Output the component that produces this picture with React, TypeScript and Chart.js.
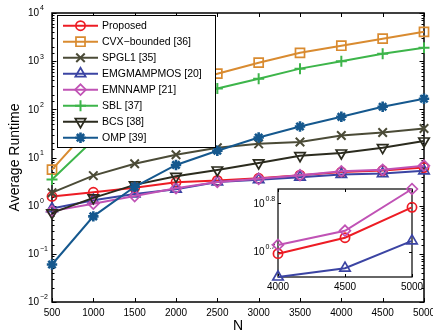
import React, { useEffect, useRef } from 'react';
import { Chart, registerables } from 'chart.js';
import { drawPoint } from 'chart.js/helpers';

Chart.register(...registerables);

const FONT = '"Liberation Sans", Arial, sans-serif';

// ---- data ----
const N = [500, 1000, 1500, 2000, 2500, 3000, 3500, 4000, 4500, 5000];
const Y_TICK_EXPONENTS = [-2, -1, 0, 1, 2, 3, 4];
const INSET_N = [4000, 4500, 5000];
const INSET_Y_TICK_EXPONENTS = [0.7, 0.8];

const proposed = [1.55, 1.9, 2.35, 3.05, 3.35, 3.7, 4.3, 4.97, 5.36, 6.19];
const cvxBounded = [5.6, 50, 150, 300, 550, 930, 1490, 2090, 2930, 4070];
const spgl1 = [1.86, 4.2, 7.4, 11.4, 16, 19.2, 21, 28.6, 33, 40];
const emgmampmos = [0.87, 1.3, 1.75, 2.2, 3.1, 3.45, 3.9, 4.45, 4.64, 5.28];
const emnnamp = [0.77, 1.1, 1.58, 2.3, 3.1, 3.6, 4.3, 5.18, 5.54, 6.75];
const sbl = [3.5, 23, 65, 140, 270, 430, 700, 1000, 1420, 1900];
const bcs = [0.71, 1.45, 2.7, 4.06, 5.5, 7.7, 10.9, 12.4, 16, 22];
const omp = [0.06, 0.6, 2.47, 7.0, 13.8, 26, 44, 70, 113, 166];

type Series = {
  label: string;
  values: number[];
  color: string;
  pointStyle: string;
  radius: number;
  rotation: number;
  pointBorderWidth: number;
};

const SERIES: Series[] = [
  { label: 'Proposed', values: proposed, color: '#ed1c24', pointStyle: 'circle', radius: 4.6, rotation: 0, pointBorderWidth: 1.7 },
  { label: 'CVX\u2212bounded [36]', values: cvxBounded, color: '#d98b30', pointStyle: 'rect', radius: 6.4, rotation: 0, pointBorderWidth: 1.7 },
  { label: 'SPGL1 [35]', values: spgl1, color: '#4b4b37', pointStyle: 'crossRot', radius: 6, rotation: 0, pointBorderWidth: 2 },
  { label: 'EMGMAMPMOS [20]', values: emgmampmos, color: '#3b44a3', pointStyle: 'triangle', radius: 6, rotation: 0, pointBorderWidth: 1.7 },
  { label: 'EMNNAMP [21]', values: emnnamp, color: '#c052b5', pointStyle: 'rectRot', radius: 5.4, rotation: 0, pointBorderWidth: 1.7 },
  { label: 'SBL [37]', values: sbl, color: '#3db54a', pointStyle: 'cross', radius: 5.5, rotation: 0, pointBorderWidth: 2 },
  { label: 'BCS [38]', values: bcs, color: '#2b2b1e', pointStyle: 'triangle', radius: 6, rotation: 180, pointBorderWidth: 1.7 },
  { label: 'OMP [39]', values: omp, color: '#15588e', pointStyle: 'star', radius: 5.2, rotation: 0, pointBorderWidth: 2.6 },
];

const INSET_SERIES_LABELS = ['Proposed', 'EMGMAMPMOS [20]', 'EMNNAMP [21]'];

function makeDataset(s: Series, i: number, xs: number[]) {
  return {
    label: s.label,
    data: xs.map((n) => ({ x: n, y: s.values[N.indexOf(n)] })),
    borderColor: s.color,
    backgroundColor: s.color,
    borderWidth: 2,
    pointStyle: s.pointStyle,
    pointRadius: s.radius,
    pointRotation: s.rotation,
    pointBorderColor: s.color,
    pointBackgroundColor: 'rgba(0,0,0,0)',
    pointBorderWidth: s.pointBorderWidth,
    tension: 0,
    fill: false,
    clip: false,
    order: -i,
  };
}

function drawPowerLabel(ctx: CanvasRenderingContext2D, xRight: number, y: number, exp: string) {
  ctx.fillStyle = '#000';
  ctx.textBaseline = 'middle';
  ctx.textAlign = 'right';
  ctx.font = `10px ${FONT}`;
  ctx.fillText('10', xRight, y);
  ctx.textAlign = 'left';
  ctx.font = `7px ${FONT}`;
  ctx.fillText(exp, xRight + 1, y - 5);
}

const mainDecor = {
  id: 'mainDecor',
  beforeDraw(chart: any) {
    const ctx = chart.ctx;
    ctx.save();
    ctx.fillStyle = '#fff';
    ctx.fillRect(0, 0, chart.width, chart.height);
    ctx.restore();
  },
  beforeDatasetsDraw(chart: any) {
    const { ctx, chartArea: a } = chart;
    const xs = chart.scales.x;
    const ys = chart.scales.y;
    ctx.save();
    ctx.strokeStyle = '#000';
    ctx.lineWidth = 1.5;
    ctx.strokeRect(a.left, a.top, a.right - a.left, a.bottom - a.top);
    ctx.lineWidth = 1;
    ctx.beginPath();
    for (const t of xs.ticks) {
      const px = Math.round(xs.getPixelForValue(t.value)) + 0.5;
      ctx.moveTo(px, a.bottom);
      ctx.lineTo(px, a.bottom - 4);
      ctx.moveTo(px, a.top);
      ctx.lineTo(px, a.top + 4);
    }
    for (const t of ys.ticks) {
      const l = Math.log10(t.value);
      const major = Math.abs(l - Math.round(l)) < 1e-6;
      const len = major ? 4.5 : 2.5;
      const py = Math.round(ys.getPixelForValue(t.value)) + 0.5;
      ctx.moveTo(a.left, py);
      ctx.lineTo(a.left + len, py);
      ctx.moveTo(a.right, py);
      ctx.lineTo(a.right - len, py);
    }
    ctx.stroke();
    for (const e of Y_TICK_EXPONENTS) {
      const py = ys.getPixelForValue(Math.pow(10, e));
      drawPowerLabel(ctx, a.left - 13, py + 0.5, e < 0 ? '\u2212' + Math.abs(e) : String(e));
    }
    ctx.restore();
  },
  afterDatasetsDraw(chart: any) {
    const { ctx, chartArea: a } = chart;
    const lx = a.left + 5;
    const ly = a.top + 2;
    const w = 158;
    const h = 132;
    ctx.save();
    ctx.fillStyle = '#fff';
    ctx.fillRect(lx, ly, w, h);
    ctx.strokeStyle = '#000';
    ctx.lineWidth = 1;
    ctx.strokeRect(lx + 0.5, ly + 0.5, w, h);
    chart.data.datasets.forEach((ds: any, i: number) => {
      const y = ly + 10.7 + 16 * i;
      ctx.strokeStyle = ds.borderColor;
      ctx.lineWidth = 2;
      ctx.beginPath();
      ctx.moveTo(lx + 6, y);
      ctx.lineTo(lx + 41, y);
      ctx.stroke();
      ctx.fillStyle = 'rgba(0,0,0,0)';
      ctx.lineWidth = ds.pointBorderWidth;
      drawPoint(ctx, {
        pointStyle: ds.pointStyle,
        rotation: ds.pointRotation,
        radius: ds.pointRadius,
        borderWidth: ds.pointBorderWidth,
      } as any, lx + 23.5, y);
      ctx.fillStyle = '#000';
      ctx.font = `10.5px ${FONT}`;
      ctx.textAlign = 'left';
      ctx.textBaseline = 'middle';
      ctx.fillText(ds.label, lx + 45, y + 0.5);
    });
    ctx.restore();
  },
};

const insetDecor = {
  id: 'insetDecor',
  beforeDatasetsDraw(chart: any) {
    const { ctx, chartArea: a } = chart;
    const xs = chart.scales.x;
    const ys = chart.scales.y;
    ctx.save();
    ctx.fillStyle = '#fff';
    ctx.fillRect(a.left, a.top, a.right - a.left, a.bottom - a.top);
    ctx.strokeStyle = '#000';
    ctx.lineWidth = 1.2;
    ctx.strokeRect(a.left, a.top, a.right - a.left, a.bottom - a.top);
    ctx.lineWidth = 1;
    ctx.beginPath();
    for (const t of xs.ticks) {
      const px = Math.round(xs.getPixelForValue(t.value)) + 0.5;
      ctx.moveTo(px, a.bottom);
      ctx.lineTo(px, a.bottom - 3);
      ctx.moveTo(px, a.top);
      ctx.lineTo(px, a.top + 3);
    }
    for (const e of INSET_Y_TICK_EXPONENTS) {
      const py = Math.round(ys.getPixelForValue(Math.pow(10, e))) + 0.5;
      ctx.moveTo(a.left, py);
      ctx.lineTo(a.left + 3, py);
      ctx.moveTo(a.right, py);
      ctx.lineTo(a.right - 3, py);
    }
    ctx.stroke();
    for (const e of INSET_Y_TICK_EXPONENTS) {
      const py = ys.getPixelForValue(Math.pow(10, e));
      drawPowerLabel(ctx, a.left - 13.5, py + 0.5, String(e));
    }
    ctx.restore();
  },
};

const plainNumber = (v: any) => String(v);

export default function App() {
  const mainRef = useRef<HTMLCanvasElement | null>(null);
  const insetRef = useRef<HTMLCanvasElement | null>(null);

  useEffect(() => {
    if (!mainRef.current || !insetRef.current) return;
    const main = new Chart(mainRef.current, {
      type: 'line',
      data: { datasets: SERIES.map((s, i) => makeDataset(s, i, N)) as any },
      options: {
        responsive: false,
        animation: false,
        events: [],
        layout: { padding: { left: 0, right: 9, top: 13, bottom: 0 } },
        plugins: { legend: { display: false }, tooltip: { enabled: false } },
        scales: {
          x: {
            type: 'linear',
            min: 500,
            max: 5000,
            grid: { display: false, drawTicks: false },
            border: { display: false },
            ticks: {
              stepSize: 500,
              autoSkip: false,
              maxRotation: 0,
              color: '#000',
              padding: 5,
              font: { family: FONT, size: 10 },
              callback: plainNumber,
            },
            title: { display: true, text: 'N', color: '#000', font: { family: FONT, size: 14 }, padding: { top: 0, bottom: 0 } },
            afterFit: (s: any) => { s.height = 33; s.paddingLeft = 0; s.paddingRight = 0; },
          },
          y: {
            type: 'logarithmic',
            min: Math.pow(10, Y_TICK_EXPONENTS[0]),
            max: Math.pow(10, Y_TICK_EXPONENTS[Y_TICK_EXPONENTS.length - 1]),
            grid: { display: false, drawTicks: false },
            border: { display: false },
            ticks: { display: false },
            title: { display: true, text: 'Average Runtime', color: '#000', font: { family: FONT, size: 14 }, padding: { top: 6.6, bottom: 0 } },
            afterFit: (s: any) => { s.width = 52; s.paddingTop = 0; s.paddingBottom = 0; },
          },
        },
      } as any,
      plugins: [mainDecor],
    });

    const insetSeries = SERIES.map((s, i) => ({ s, i })).filter(({ s }) => INSET_SERIES_LABELS.includes(s.label));
    const insetVals = insetSeries.flatMap(({ s }) => INSET_N.map((n) => s.values[N.indexOf(n)]));
    const inset = new Chart(insetRef.current, {
      type: 'line',
      data: { datasets: insetSeries.map(({ s, i }) => makeDataset(s, i, INSET_N)) as any },
      options: {
        responsive: false,
        animation: false,
        events: [],
        layout: { padding: { left: 0, right: 13, top: 9, bottom: 0 } },
        plugins: { legend: { display: false }, tooltip: { enabled: false } },
        scales: {
          x: {
            type: 'linear',
            min: INSET_N[0],
            max: INSET_N[INSET_N.length - 1],
            grid: { display: false, drawTicks: false },
            border: { display: false },
            ticks: {
              stepSize: 500,
              autoSkip: false,
              maxRotation: 0,
              color: '#000',
              padding: 4,
              font: { family: FONT, size: 10 },
              callback: plainNumber,
            },
            afterFit: (s: any) => { s.height = 18; s.paddingLeft = 0; s.paddingRight = 0; },
          },
          y: {
            type: 'logarithmic',
            min: Math.min(...insetVals),
            max: Math.max(...insetVals),
            grid: { display: false, drawTicks: false },
            border: { display: false },
            ticks: { display: false },
            afterFit: (s: any) => { s.width = 38; s.paddingTop = 0; s.paddingBottom = 0; },
          },
        },
      } as any,
      plugins: [insetDecor],
    });

    return () => {
      main.destroy();
      inset.destroy();
    };
  }, []);

  return (
    <div style={{ position: 'fixed', left: 0, top: 0, width: 433, height: 335, background: '#fff' }}>
      <canvas ref={mainRef} width={433} height={335} style={{ position: 'absolute', left: 0, top: 0, width: 433, height: 335 }} />
      <canvas ref={insetRef} width={185} height={115} style={{ position: 'absolute', left: 240, top: 180, width: 185, height: 115 }} />
    </div>
  );
}
